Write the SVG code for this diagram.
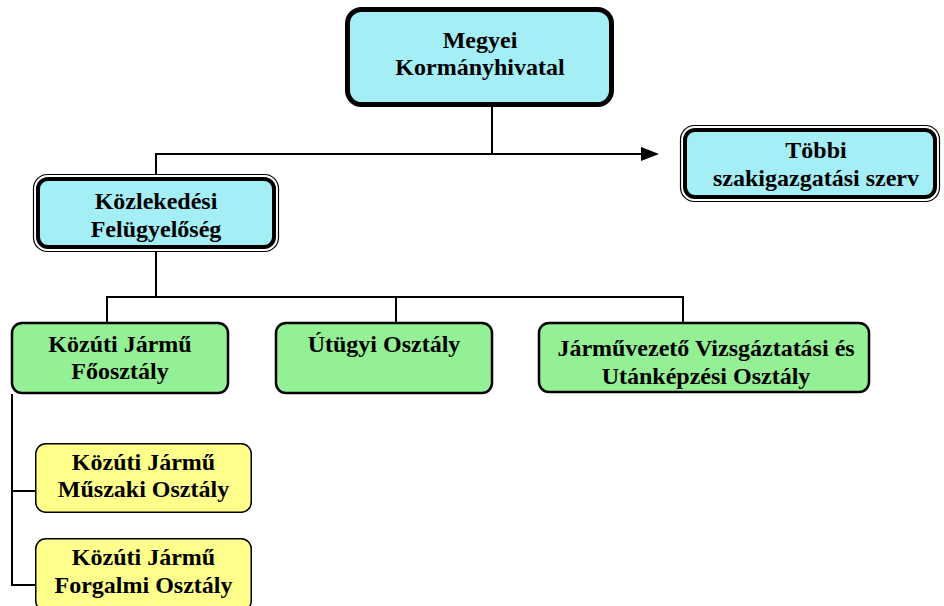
<svg xmlns="http://www.w3.org/2000/svg" width="944" height="606" viewBox="0 0 944 606">
<defs>
<style>
.t{font-family:"Liberation Serif","Times New Roman",serif;font-weight:bold;font-size:24px;fill:#000;text-anchor:middle}
.c{stroke:#000;stroke-width:2;fill:none}
.cy{fill:#a4eef6}
.gr{fill:#94f094;stroke:#000;stroke-width:2.5}
.ye{fill:#ffff8c;stroke:#000;stroke-width:1.5}
.thin{fill:none;stroke:#000;stroke-width:1.2}
</style>
<marker id="ah" viewBox="0 0 10 10" refX="10" refY="5" markerWidth="8" markerHeight="7" markerUnits="userSpaceOnUse" orient="auto" preserveAspectRatio="none">
<path d="M0,0 L10,5 L0,10 Z" fill="#000"/>
</marker>
</defs>
<rect width="944" height="606" fill="#fff"/>
<g id="connectors">
<path class="c" d="M492,107 V154"/>
<path class="c" d="M156,174 V154 H641"/>
<path d="M641,147 L659,154 L641,161 Z" fill="#000"/>
<path class="c" d="M156,252 V297"/>
<path class="c" d="M107,322 V297 H683 V322"/>
<path class="c" d="M396,297 V322"/>
<path class="c" d="M12,394 V585 H35"/>
<path class="c" d="M12,491 H35"/>
</g>
<g id="megyei">
<rect class="cy" x="347.5" y="9.5" width="264" height="95" rx="14" stroke="#000" stroke-width="5"/>
<text class="t" x="480" y="48">Megyei</text>
<text class="t" x="480" y="75">Kormányhivatal</text>
</g>
<g id="tobbi">
<rect class="thin" x="680.5" y="125.5" width="259" height="76" rx="14"/>
<rect class="cy" x="685" y="130" width="250" height="67" rx="10" stroke="#000" stroke-width="4"/>
<text class="t" x="816" y="158">Többi</text>
<text class="t" x="816" y="186">szakigazgatási szerv</text>
</g>
<g id="kozlekedesi">
<rect class="thin" x="33.5" y="174.5" width="245" height="77" rx="14"/>
<rect class="cy" x="38" y="179" width="236" height="68" rx="10" stroke="#000" stroke-width="4"/>
<text class="t" x="156" y="209">Közlekedési</text>
<text class="t" x="156" y="237">Felügyelőség</text>
</g>
<g id="foosztaly">
<rect class="gr" x="12" y="323" width="216" height="70" rx="10"/>
<text class="t" x="120" y="352">Közúti Jármű</text>
<text class="t" x="120" y="379">Főosztály</text>
</g>
<g id="utugyi">
<rect class="gr" x="276" y="323" width="216" height="70" rx="10"/>
<text class="t" x="384" y="352">Útügyi Osztály</text>
</g>
<g id="jarmuvezeto">
<rect class="gr" x="539" y="323" width="330" height="69" rx="10"/>
<text class="t" x="706" y="356">Járművezető Vizsgáztatási és</text>
<text class="t" x="706" y="384">Utánképzési Osztály</text>
</g>
<g id="muszaki">
<rect class="ye" x="35.75" y="443.75" width="215.5" height="68.5" rx="10"/>
<text class="t" x="143.5" y="470">Közúti Jármű</text>
<text class="t" x="143.5" y="497">Műszaki Osztály</text>
</g>
<g id="forgalmi">
<rect class="ye" x="35.75" y="538.75" width="215.5" height="72" rx="10"/>
<text class="t" x="143.5" y="565">Közúti Jármű</text>
<text class="t" x="143.5" y="593">Forgalmi Osztály</text>
</g>
</svg>
